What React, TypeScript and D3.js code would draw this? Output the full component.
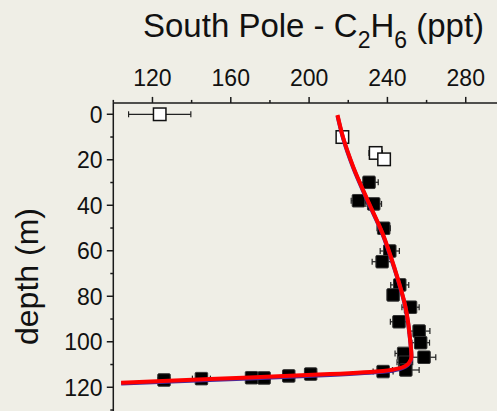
import React from "react";
import * as d3 from "d3";

// Open squares (near-surface samples): value (ppt), depth (m), error (ppt)
const openValues = [123.7, 217.0, 234.0, 238.3];
const openDepths = [0, 10, 17, 19.8];
const openErrors = [15.9, 2, 3.4, 2.9];

// Filled squares (firn air samples)
const filledValues = [230.6, 225.2, 233.0, 238.1, 241.2, 237.3, 246.3, 242.9, 251.8, 245.9, 256.2, 257.0, 248.3, 258.7, 248.9, 249.4, 237.8, 200.8, 189.6, 177.0, 170.6, 145.0, 125.9];
const filledDepths = [29.9, 38.0, 39.4, 50.1, 60.1, 64.8, 75.0, 79.4, 84.8, 91.2, 95.3, 100.4, 105.1, 106.8, 109.0, 112.4, 113.1, 114.2, 115.0, 115.9, 115.8, 116.2, 116.8];
const filledErrors = [4.7, 3.7, 4, 3.4, 4.9, 5.1, 4.6, 2, 4.4, 4.4, 5.5, 4.5, 4.4, 6, 4, 6.8, 5.1, 3, 3, 3, 3, 4.6, 3];

// Model curve
const curveValues = [214.5, 217.3, 222.5, 229.8, 237.5, 243.4, 249.2, 251.8, 252.3, 250.9, 246.3, 237.8, 210.6, 149.3, 104];
const curveDepths = [0.3, 10, 23, 37.6, 52.3, 67, 84.6, 100.7, 106.5, 109.4, 111.6, 112.8, 114.2, 116.4, 118];

const xMajor = [120, 160, 200, 240, 280];
const xMinor = [100, 140, 180, 220, 260, 300];
const yMajor = [0, 20, 40, 60, 80, 100, 120];
const yMinor = [10, 30, 50, 70, 90, 110, 130];

const W = 497;
const H = 411;
const BG = "#efeee6";
const AX = "#1a1a1a";
const FONT = "Arial, 'Liberation Sans', Helvetica, sans-serif";

export default function App() {
  const x0 = 113.3;
  const y0 = 102.9;
  const x = d3.scaleLinear().domain([100, 300]).range([x0, x0 + 200 * 1.958]);
  const y = d3.scaleLinear().domain([-5, 135]).range([y0, y0 + 140 * 2.275]);

  const curve = curveValues.map((v, i) => [v, curveDepths[i]] as [number, number]);
  const line = d3
    .line<[number, number]>()
    .x((d) => x(d[0]))
    .y((d) => y(d[1]))
    .curve(d3.curveMonotoneY);
  const pathD = line(curve) || "";

  const sq = 12.5;

  const errBar = (v: number, dep: number, e: number, key: string) => {
    const cy = y(dep);
    const xl = x(v - e);
    const xr = x(v + e);
    return (
      <g key={key} stroke="#222" strokeWidth={1.2}>
        <line x1={xl} x2={xr} y1={cy} y2={cy} />
        <line x1={xl} x2={xl} y1={cy - 3} y2={cy + 3} />
        <line x1={xr} x2={xr} y1={cy - 3} y2={cy + 3} />
      </g>
    );
  };

  return (
    <svg
      width={W}
      height={H}
      style={{ position: "absolute", left: 0, top: 0, display: "block" }}
    >
      <rect x={0} y={0} width={W} height={H} fill={BG} />

      {/* Title */}
      <text x={143} y={36.7} fontFamily={FONT} fontSize={33} fill="#111">
        <tspan>South Pole - C</tspan>
        <tspan fontSize={23} dy={11}>2</tspan>
        <tspan dy={-11}>H</tspan>
        <tspan fontSize={23} dy={11}>6</tspan>
        <tspan dy={-11}> (ppt)</tspan>
      </text>

      {/* Y label */}
      <text
        transform={`translate(37.5, 276.5) rotate(-90)`}
        textAnchor="middle"
        fontFamily={FONT}
        fontSize={32}
        fill="#111"
      >
        depth (m)
      </text>

      {/* Top axis */}
      <line x1={x0} x2={W} y1={y0} y2={y0} stroke={AX} strokeWidth={1.5} />
      {xMajor.map((t) => (
        <g key={"xM" + t}>
          <line x1={x(t)} x2={x(t)} y1={y0} y2={y0 - 6} stroke={AX} strokeWidth={1.5} />
          <text x={x(t)} y={86} textAnchor="middle" fontFamily={FONT} fontSize={23} fill="#111">
            {t}
          </text>
        </g>
      ))}
      {xMinor.map((t) => (
        <line key={"xm" + t} x1={x(t)} x2={x(t)} y1={y0} y2={y0 - 3} stroke={AX} strokeWidth={1.5} />
      ))}

      {/* Left axis */}
      <line x1={x0} x2={x0} y1={y0} y2={H} stroke={AX} strokeWidth={1.5} />
      {yMajor.map((t) => (
        <g key={"yM" + t}>
          <line x1={x0} x2={x0 - 6.5} y1={y(t)} y2={y(t)} stroke={AX} strokeWidth={1.5} />
          <text
            x={102.5}
            y={y(t)}
            dy="0.36em"
            textAnchor="end"
            fontFamily={FONT}
            fontSize={23}
            fill="#111"
          >
            {t}
          </text>
        </g>
      ))}
      {yMinor.map((t) => (
        <line key={"ym" + t} x1={x0} x2={x0 - 3} y1={y(t)} y2={y(t)} stroke={AX} strokeWidth={1.5} />
      ))}

      {/* Error bars */}
      {openValues.map((v, i) => errBar(v, openDepths[i], openErrors[i], "eo" + i))}
      {filledValues.map((v, i) => errBar(v, filledDepths[i], filledErrors[i], "ef" + i))}

      {/* Open squares */}
      {openValues.map((v, i) => (
        <rect
          key={"o" + i}
          x={x(v) - sq / 2}
          y={y(openDepths[i]) - sq / 2}
          width={sq}
          height={sq}
          fill="#ffffff"
          stroke="#111"
          strokeWidth={1.5}
        />
      ))}
      {/* Filled squares */}
      {filledValues.map((v, i) => (
        <rect
          key={"f" + i}
          x={x(v) - sq / 2}
          y={y(filledDepths[i]) - sq / 2}
          width={sq}
          height={sq}
          rx={1}
          fill="#000"
          stroke="#333"
          strokeWidth={1}
        />
      ))}

      {/* Model curve */}
      <path d={pathD} fill="none" stroke="#4a2a9a" strokeWidth={4} transform="translate(0,0.9)" />
      <path d={pathD} fill="none" stroke="#ff0000" strokeWidth={4} strokeLinejoin="round" />
    </svg>
  );
}
